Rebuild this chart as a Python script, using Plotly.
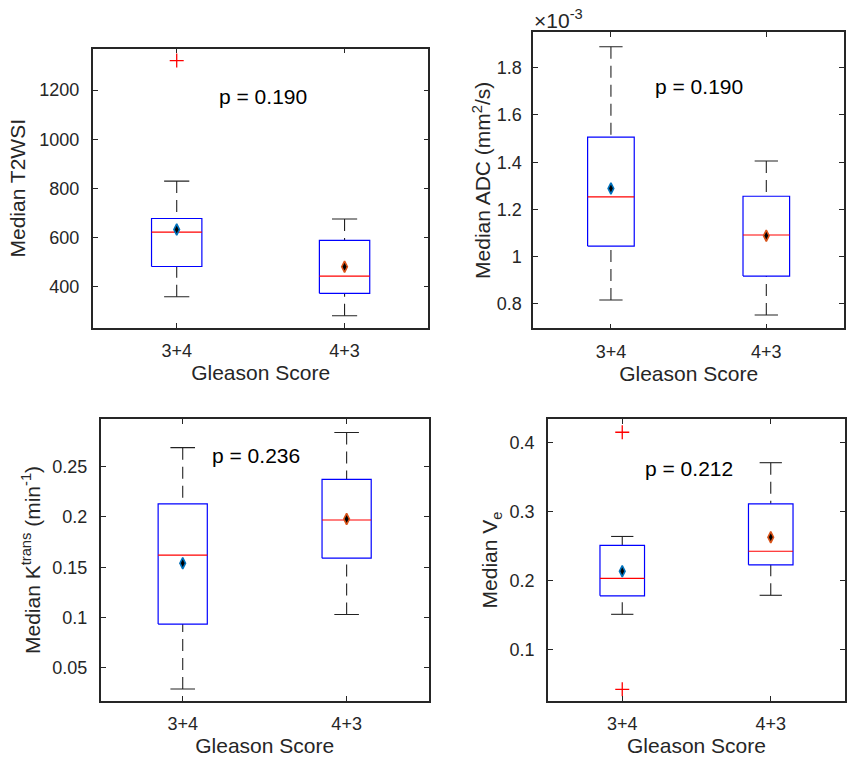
import plotly.graph_objects as go

# ---------------- data ----------------
groups = ["3+4", "4+3"]

# Median T2WSI
t2_q1 = [483, 374]
t2_med = [623, 444]
t2_q3 = [678, 589]
t2_lo = [360, 283]
t2_hi = [830, 676]
t2_mean = [633, 482]
t2_out = [[1320], []]

# Median ADC (mm^2/s), values in units of 1e-3
adc_q1 = [1.045, 0.918]
adc_med = [1.253, 1.092]
adc_q3 = [1.506, 1.256]
adc_lo = [0.817, 0.753]
adc_hi = [1.889, 1.405]
adc_mean = [1.289, 1.089]
adc_out = [[], []]

# Median Ktrans (min^-1)
kt_q1 = [0.0934, 0.159]
kt_med = [0.162, 0.197]
kt_q3 = [0.213, 0.2375]
kt_lo = [0.0288, 0.103]
kt_hi = [0.269, 0.284]
kt_mean = [0.154, 0.198]
kt_out = [[], []]

# Median Ve
ve_q1 = [0.178, 0.2227]
ve_med = [0.2033, 0.2424]
ve_q3 = [0.251, 0.311]
ve_lo = [0.1512, 0.1787]
ve_hi = [0.2638, 0.3705]
ve_mean = [0.2135, 0.2627]
ve_out = [[0.4145, 0.0427], []]

p_values = ["p = 0.190", "p = 0.190", "p = 0.236", "p = 0.212"]

t2_ticks = [400, 600, 800, 1000, 1200]
t2_ticktext = ["400", "600", "800", "1000", "1200"]
adc_ticks = [0.8, 1.0, 1.2, 1.4, 1.6, 1.8]
adc_ticktext = ["0.8", "1", "1.2", "1.4", "1.6", "1.8"]
kt_ticks = [0.05, 0.1, 0.15, 0.2, 0.25]
kt_ticktext = ["0.05", "0.1", "0.15", "0.2", "0.25"]
ve_ticks = [0.1, 0.2, 0.3, 0.4]
ve_ticktext = ["0.1", "0.2", "0.3", "0.4"]

# ---------------- styling ----------------
W, H = 847, 758
FONT = "Liberation Sans, Arial, Helvetica, sans-serif"
AX = "#262626"
BOX_HALF = 0.15
CAP_HALF = 0.075
MEAN_COLORS = ["#0072BD", "#D95319"]

fig = go.Figure()


def add_panel(xa, ya, q1, med, q3, lo, hi, mean, outs):
    pos = [i + 1 for i in range(len(groups))]
    wx, wy, cx, cy, bx, by, mx, my, ox, oy = [], [], [], [], [], [], [], [], [], []
    for i, p in enumerate(pos):
        wx += [p, p, None, p, p, None]
        wy += [hi[i], q3[i], None, lo[i], q1[i], None]
        cx += [p - CAP_HALF, p + CAP_HALF, None, p - CAP_HALF, p + CAP_HALF, None]
        cy += [hi[i], hi[i], None, lo[i], lo[i], None]
        bx += [p - BOX_HALF, p + BOX_HALF, p + BOX_HALF, p - BOX_HALF, p - BOX_HALF, None]
        by += [q1[i], q1[i], q3[i], q3[i], q1[i], None]
        mx += [p - BOX_HALF, p + BOX_HALF, None]
        my += [med[i], med[i], None]
        for v in outs[i]:
            ox.append(p)
            oy.append(v)
    common = dict(xaxis=xa, yaxis=ya, showlegend=False, hoverinfo="skip")
    fig.add_trace(go.Scatter(x=wx, y=wy, mode="lines",
                             line=dict(color="#222222", width=1.1, dash="12px,7px"), **common))
    fig.add_trace(go.Scatter(x=cx, y=cy, mode="lines",
                             line=dict(color="#222222", width=1.1), **common))
    fig.add_trace(go.Scatter(x=bx, y=by, mode="lines",
                             line=dict(color="#0000FF", width=1.2), **common))
    fig.add_trace(go.Scatter(x=mx, y=my, mode="lines",
                             line=dict(color="#FF0000", width=1.2), **common))
    if ox:
        fig.add_trace(go.Scatter(x=ox, y=oy, mode="markers",
                                 marker=dict(symbol="cross-thin", size=10,
                                             line=dict(color="#FF0000", width=1.3)),
                                 **common))
    fig.add_trace(go.Scatter(x=pos, y=mean, mode="markers",
                             marker=dict(symbol="diamond-tall", size=8, color="black",
                                         line=dict(color=MEAN_COLORS, width=1.6)),
                             **common))


add_panel("x", "y", t2_q1, t2_med, t2_q3, t2_lo, t2_hi, t2_mean, t2_out)
add_panel("x2", "y2", adc_q1, adc_med, adc_q3, adc_lo, adc_hi, adc_mean, adc_out)
add_panel("x3", "y3", kt_q1, kt_med, kt_q3, kt_lo, kt_hi, kt_mean, kt_out)
add_panel("x4", "y4", ve_q1, ve_med, ve_q3, ve_lo, ve_hi, ve_mean, ve_out)


def px_x(a, b):
    return [a / W, min(b / W, 1.0)]


def px_y(top, bottom):
    return [1 - bottom / H, 1 - top / H]


def xaxis(dom, anchor):
    return dict(domain=dom, anchor=anchor, range=[0.5, 2.5],
                tickvals=[1, 2], ticktext=groups,
                showline=True, mirror="ticks", linecolor=AX, linewidth=1.6,
                ticks="inside", ticklen=5, tickwidth=1.3, tickcolor=AX,
                showgrid=False, zeroline=False, ticklabelstandoff=6,
                tickfont=dict(family=FONT, size=18, color=AX),
                title=dict(text="Gleason Score", standoff=4,
                           font=dict(family=FONT, size=21, color=AX)))


def yaxis(dom, anchor, rng, tv, tt, title, standoff, tls=8):
    return dict(domain=dom, anchor=anchor, range=rng,
                tickvals=tv, ticktext=tt,
                showline=True, mirror="ticks", linecolor=AX, linewidth=1.6,
                ticks="inside", ticklen=5, tickwidth=1.3, tickcolor=AX,
                showgrid=False, zeroline=False, ticklabelstandoff=tls,
                tickfont=dict(family=FONT, size=18, color=AX),
                title=dict(text=title, standoff=standoff,
                           font=dict(family=FONT, size=21, color=AX)))


fig.update_layout(
    width=W, height=H,
    margin=dict(l=0, r=0, t=0, b=0),
    paper_bgcolor="white", plot_bgcolor="white",
    font=dict(family=FONT, color=AX),
    xaxis=xaxis(px_x(93, 429.5), "y"),
    yaxis=yaxis(px_y(48.5, 328), "x", [233, 1369], t2_ticks, t2_ticktext,
                "Median T2WSI", 8),
    xaxis2=xaxis(px_x(534.5, 846), "y2"),
    yaxis2=yaxis(px_y(32.3, 328.3), "x2", [0.697, 1.95], adc_ticks, adc_ticktext,
                 "Median ADC (mm<sup>2</sup>/s)", 0, 6),
    xaxis3=xaxis(px_x(101, 429.6), "y3"),
    yaxis3=yaxis(px_y(419, 701), "x3", [0.0169, 0.2975], kt_ticks, kt_ticktext,
                 "Median K<sup>trans</sup> (min<sup>-1</sup>)", 6),
    xaxis4=xaxis(px_x(549.3, 847.8), "y4"),
    yaxis4=yaxis(px_y(419, 701), "x4", [0.0258, 0.4337], ve_ticks, ve_ticktext,
                 "Median V<sub>e</sub>", 6),
)

# p-value annotations
p_pos = [("x", "y", 1.512, 1173), ("x2", "y2", 1.569, 1.7226),
         ("x3", "y3", 1.448, 0.2616), ("x4", "y4", 1.45, 0.3624)]
for txt, (xa, ya, xv, yv) in zip(p_values, p_pos):
    fig.add_annotation(x=xv, y=yv, xref=xa, yref=ya, text=txt, showarrow=False,
                       xanchor="center", yanchor="middle",
                       font=dict(family=FONT, size=21, color="black"))

# exponent label for ADC axis
fig.add_annotation(x=0, y=1, xref="x2 domain", yref="y2 domain",
                   text="\u00d710<sup>-3</sup>", showarrow=False,
                   xanchor="left", yanchor="bottom", yshift=-2, xshift=-1,
                   font=dict(family=FONT, size=21, color=AX))

fig.write_html("out.html", config={"displayModeBar": False},
               post_script="document.body.style.margin='0';")
